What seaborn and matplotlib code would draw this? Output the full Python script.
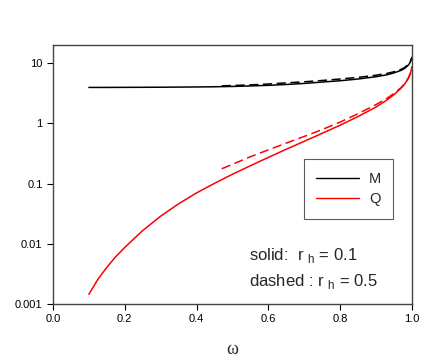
import seaborn as sns
import matplotlib.pyplot as plt
import pandas as pd
from matplotlib.lines import Line2D
from matplotlib.ticker import FixedLocator, NullLocator

# valores
w_M = [0.10, 0.15, 0.20, 0.25, 0.30, 0.35, 0.40, 0.45, 0.50, 0.55, 0.60, 0.65,
       0.70, 0.75, 0.80, 0.85, 0.90, 0.93, 0.95, 0.97, 0.98, 0.99, 0.995, 1.0]
M_solid = [3.95, 3.95, 3.96, 3.97, 3.98, 4.0, 4.02, 4.05, 4.1, 4.18, 4.28, 4.42,
           4.6, 4.85, 5.1, 5.45, 5.95, 6.4, 6.9, 7.6, 8.2, 9.3, 10.3, 12.5]

w_Q = [0.10, 0.125, 0.15, 0.175, 0.20, 0.25, 0.30, 0.35, 0.40, 0.45, 0.50, 0.55,
       0.60, 0.65, 0.70, 0.75, 0.80, 0.85, 0.90, 0.93, 0.95, 0.97, 0.98, 0.99, 0.995, 1.0]
Q_solid = [0.00145, 0.00257, 0.00407, 0.00613, 0.00871, 0.0166, 0.0288, 0.0462, 0.070, 0.101, 0.143, 0.198,
           0.272, 0.372, 0.504, 0.684, 0.933, 1.30, 1.87, 2.44, 3.0, 3.86, 4.53, 5.58, 6.55, 8.64]

w_dash = [0.47, 0.50, 0.55, 0.60, 0.65, 0.70, 0.75, 0.80, 0.85, 0.90, 0.93, 0.95,
          0.97, 0.98, 0.99, 0.995, 1.0]
M_dash = [4.2, 4.25, 4.35, 4.5, 4.7, 4.9, 5.15, 5.45, 5.8, 6.3, 6.75, 7.2,
          7.9, 8.5, 9.6, 10.5, 12.5]
Q_dash = [0.176, 0.209, 0.279, 0.363, 0.470, 0.607, 0.79, 1.05, 1.45, 2.05, 2.6, 3.15,
          3.95, 4.6, 5.7, 6.7, 8.8]

y_ticks = [0.001, 0.01, 0.1, 1, 10]
y_labels = ['0.001', '0.01', '0.1', '1', '10']
x_ticks = [0.0, 0.2, 0.4, 0.6, 0.8, 1.0]

sns.set_style('ticks')
plt.rcParams['font.family'] = ['Liberation Sans', 'DejaVu Sans']

fig = plt.figure(figsize=(4.36, 3.6), dpi=100)
ax = fig.add_axes([53 / 436, 56 / 360, 359 / 436, 259 / 360])

m_solid = pd.DataFrame({'w': w_M, 'v': M_solid})
q_solid = pd.DataFrame({'w': w_Q, 'v': Q_solid})
dash = pd.DataFrame({'w': w_dash, 'M': M_dash, 'Q': Q_dash})

sns.lineplot(data=m_solid, x='w', y='v', color='black', lw=1.1, ax=ax)
sns.lineplot(data=q_solid, x='w', y='v', color='red', lw=1.1, ax=ax)
sns.lineplot(data=dash, x='w', y='M', color='black', lw=1.1, ax=ax)
sns.lineplot(data=dash, x='w', y='Q', color='red', lw=1.1, ax=ax)
for ln in ax.lines[2:]:
    ln.set_linestyle((0, (6, 3)))

ax.set_yscale('log')
ax.set_xlim(0, 1)
ax.set_ylim(0.001, 20)
ax.yaxis.set_major_locator(FixedLocator(y_ticks))
ax.yaxis.set_minor_locator(NullLocator())
ax.set_yticklabels(y_labels)
ax.set_xticks(x_ticks)
ax.set_xticklabels([f'{t:.1f}' for t in x_ticks])
ax.tick_params(labelsize=8, length=4, width=0.8, colors='black')
for s in ax.spines.values():
    s.set_color('#444444')
    s.set_linewidth(1.0)

ax.set_ylabel('')
ax.set_xlabel('ω', fontsize=13, family='Liberation Serif', labelpad=12)

handles = [Line2D([], [], color='black', lw=1), Line2D([], [], color='red', lw=1)]
leg = ax.legend(handles, ['M', 'Q'], loc='upper left', bbox_to_anchor=(0.699, 0.559),
                borderaxespad=0, frameon=True, fancybox=False, fontsize=10.5,
                handlelength=2.9, borderpad=0.85, labelspacing=0.45, handletextpad=0.7)
leg.get_frame().set_edgecolor('#333333')
leg.get_frame().set_linewidth(0.8)

ax.text(0.546, 0.188, 'solid:  r $_{\\mathregular{h}}$ = 0.1', transform=ax.transAxes,
        fontsize=12, va='center')
ax.text(0.546, 0.085, 'dashed : r $_{\\mathregular{h}}$ = 0.5', transform=ax.transAxes,
        fontsize=12, va='center')

fig.savefig('out.png', dpi=100)
